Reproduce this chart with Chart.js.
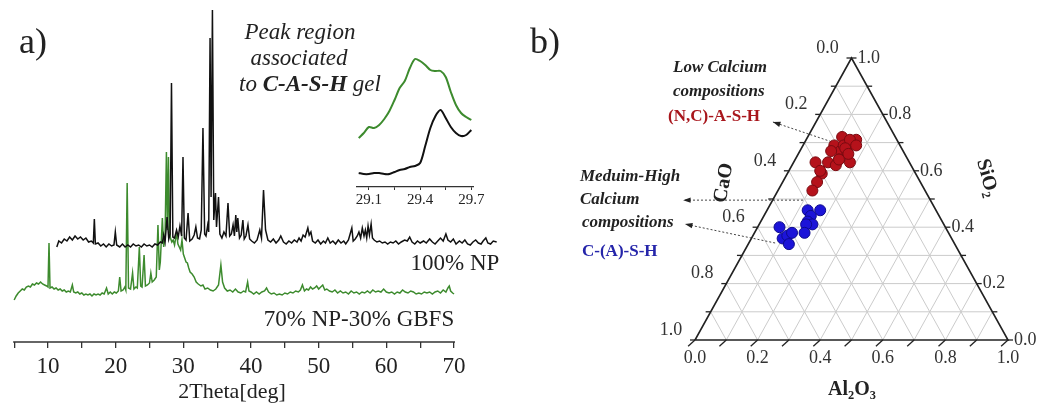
<!DOCTYPE html>
<html>
<head>
<meta charset="utf-8">
<script src="https://cdn.jsdelivr.net/npm/chart.js@4.4.0/dist/chart.umd.min.js"></script>
<style>
  html, body { margin: 0; padding: 0; background: #fff; }
  #wrap { position: relative; width: 1042px; height: 407px; overflow: hidden; }
  canvas { position: absolute; }
  #xrd { left: 0; top: 0; }
  #inset { left: 340px; top: 40px; }
  #tern { left: 520px; top: 0; }
</style>
</head>
<body>
<div id="wrap">
  <canvas id="xrd" width="520" height="407"></canvas>
  <canvas id="inset" width="150" height="180"></canvas>
  <canvas id="tern" width="522" height="407"></canvas>
</div>
<script>
// ---- panel a) XRD patterns (2theta in deg, intensity in arbitrary units) ----
const npTheta = [11.3,11.6,12.0,12.4,12.8,13.2,13.6,14.0,14.4,14.8,15.2,15.6,16.0,16.4,16.7,16.85,17.0,17.4,17.8,18.2,18.6,19.0,19.4,19.75,19.95,20.15,20.6,21.0,21.4,21.8,22.2,22.6,23.0,23.4,23.8,24.2,24.6,25.0,25.4,25.8,26.2,26.6,26.9,27.1,27.3,27.6,27.85,28.05,28.25,28.45,28.7,29.0,29.25,29.5,29.75,29.95,30.15,30.4,30.7,30.95,31.3,31.6,31.85,32.1,32.4,32.65,32.9,33.15,33.35,33.6,33.75,33.95,34.1,34.3,34.5,34.75,34.9,35.2,35.4,35.7,36.0,36.3,36.6,36.85,37.1,37.35,37.55,37.75,37.9,38.05,38.3,38.55,38.8,39.0,39.25,39.55,39.8,40.1,40.5,40.9,41.3,41.55,41.85,42.15,42.5,42.9,43.3,43.7,44.1,44.4,44.8,45.2,45.6,46.0,46.4,46.8,47.1,47.4,47.7,48.0,48.4,48.6,48.85,49.1,49.5,49.9,50.3,50.7,51.0,51.35,51.7,52.1,52.5,52.9,53.3,53.7,54.0,54.4,54.9,55.1,55.4,55.7,55.95,56.2,56.45,56.7,56.9,57.1,57.3,57.5,57.75,57.95,58.2,58.6,59.0,59.4,59.8,60.2,60.6,61.0,61.4,61.8,62.2,62.7,63.1,63.45,63.8,64.2,64.6,65.0,65.5,65.9,66.4,66.8,67.2,67.6,68.0,68.4,68.8,69.1,69.5,69.9,70.3,70.8,71.2,71.6,72.0,72.4,72.8,73.2,73.6,74.0,74.3,74.7,75.0,75.4,75.8,76.3];
const npInt = [95,101,99,103,101,105,102,106,103,105,102,104,100,101,99,123,98,99,96,98,95,98,96,97,110,97,95,98,95,97,95,98,96,97,95,98,96,97,95,98,97,100,99,107,100,125,103,108,259,105,104,112,105,116,106,185,104,102,129,101,103,107,115,104,103,112,214,108,106,117,110,304,145,332,122,149,115,145,108,104,110,106,139,106,108,117,106,127,110,124,104,107,122,103,106,117,103,101,99,102,112,104,152,112,102,100,103,99,102,106,100,98,101,99,102,100,104,101,107,105,114,107,110,101,99,102,98,101,99,104,99,101,98,102,99,101,98,102,114,101,103,106,110,104,114,106,112,104,116,107,118,104,102,100,101,99,100,98,100,99,101,98,100,102,101,105,100,98,101,99,101,99,103,100,98,101,104,101,108,102,100,103,98,101,99,102,98,97,100,102,99,98,101,104,99,98,101,100];

const gbfsTheta = [5.0,5.3,5.6,5.9,6.2,6.5,6.8,7.1,7.4,7.7,8.0,8.3,8.6,8.9,9.2,9.5,9.8,10.0,10.15,10.3,10.6,10.9,11.2,11.5,11.8,12.1,12.4,12.7,13.0,13.3,13.6,13.8,14.1,14.4,14.7,15.0,15.3,15.6,15.9,16.2,16.5,16.8,17.1,17.4,17.7,18.0,18.3,18.65,18.9,19.2,19.5,19.8,20.1,20.4,20.6,20.8,21.1,21.35,21.5,21.7,21.9,22.2,22.5,22.7,23.0,23.2,23.5,23.7,23.9,24.2,24.4,24.7,25.0,25.2,25.4,25.7,26.0,26.25,26.45,26.6,26.9,27.1,27.3,27.5,27.65,27.8,27.95,28.1,28.3,28.5,28.7,29.0,29.2,29.4,29.6,29.8,30.0,30.2,30.4,30.6,30.8,31.0,31.3,31.6,31.9,32.2,32.6,32.9,33.2,33.6,34.0,34.4,34.8,35.2,35.55,35.8,36.1,36.5,36.9,37.3,37.7,38.1,38.5,38.9,39.2,39.5,39.7,40.0,40.4,40.8,41.2,41.6,42.0,42.3,42.6,43.0,43.4,43.8,44.2,44.6,45.0,45.4,45.8,46.2,46.6,47.0,47.3,47.6,47.9,48.2,48.5,48.8,49.1,49.4,49.7,50.0,50.3,50.6,50.9,51.2,51.6,52.0,52.4,52.8,53.2,53.6,54.0,54.4,54.8,55.2,55.6,56.0,56.4,56.8,57.2,57.6,58.0,58.4,58.8,59.2,59.6,60.0,60.4,60.8,61.2,61.6,62.0,62.4,62.8,63.2,63.6,64.0,64.4,64.8,65.2,65.6,66.0,66.4,66.8,67.2,67.6,68.0,68.4,68.8,69.1,69.3,69.5,69.8,70.0];
const gbfsInt = [42,46,49,51,53,52,55,56,55,58,57,59,58,60,58,57,56,55,99,54,55,53,54,52,53,51,52,50,51,50,57,50,49,50,48,49,47,48,47,48,46,48,47,48,47,49,48,54,48,50,48,50,49,51,65,51,52,55,52,159,54,53,69,53,55,54,95,56,55,87,56,57,59,69,60,62,65,117,72,80,124,95,105,190,112,185,112,104,100,102,97,109,98,95,92,102,88,84,80,79,74,70,68,65,60,58,56,57,53,54,52,51,53,57,77,60,54,51,52,50,53,50,49,51,50,60,51,50,48,50,48,50,51,54,50,48,49,47,48,47,49,48,50,49,51,50,52,57,51,53,52,55,53,54,56,53,55,57,52,53,51,50,52,49,51,49,50,48,51,49,50,48,50,49,51,49,52,50,51,50,53,50,49,50,48,50,49,52,50,49,51,50,48,49,48,50,49,50,48,50,51,49,52,50,54,56,51,49,48];

const xrdTicks = [5,10,15,20,25,30,35,40,45,50,55,60,65,70];

// inset: C-A-S-H peak region
const insetTheta = [29.04,29.07,29.10,29.13,29.16,29.19,29.22,29.25,29.28,29.31,29.34,29.37,29.40,29.43,29.46,29.49,29.52,29.55,29.58,29.61,29.64,29.67,29.70];
const insetGbfs = [62,67,73,72,75,81,89,100,112,119,132,141,139,135,130,129,129,123,108,95,87,83,80];
const insetNp = [27,26,26,27,27,26,26,28,30,31,33,34,37,54,72,84,90,82,73,67,64,65,70];
const insetTicks = [29.1,29.25,29.4,29.55,29.7];

// ---- panel b) ternary compositions (mass fractions) ----
const nashCaO = [0.17,0.13,0.17,0.21,0.20,0.23,0.18,0.19,0.22,0.26,0.24,0.30,0.30,0.33,0.36,0.18,0.15,0.18,0.18,0.22,0.30,0.14];
const nashAl  = [0.11,0.16,0.14,0.10,0.13,0.10,0.15,0.18,0.14,0.11,0.14,0.07,0.11,0.11,0.11,0.13,0.14,0.14,0.16,0.14,0.10,0.17];
const nashSi  = [0.72,0.71,0.69,0.69,0.67,0.67,0.67,0.63,0.64,0.63,0.62,0.63,0.59,0.56,0.53,0.69,0.71,0.68,0.66,0.64,0.60,0.69];

const cashCaO = [0.37,0.41,0.41,0.43,0.42,0.44,0.46,0.53,0.54,0.52,0.50,0.53];
const cashAl  = [0.17,0.13,0.15,0.15,0.17,0.15,0.16,0.07,0.10,0.11,0.12,0.13];
const cashSi  = [0.46,0.46,0.44,0.42,0.41,0.41,0.38,0.40,0.36,0.37,0.38,0.34];

const ternTicks = [0,0.1,0.2,0.3,0.4,0.5,0.6,0.7,0.8,0.9,1.0];

const SERIF = "'Liberation Serif', 'Times New Roman', serif";

// ternary (Al2O3, SiO2) -> cartesian in data units
function ternXY(al, si) {
  return { x: al + si / 2, y: si };
}

// ---------------- panel a ----------------
const xrdDecor = {
  id: 'xrdDecor',
  afterDraw(chart) {
    const { ctx, chartArea, scales: { x } } = chart;
    ctx.save();
    // axis line only spans 5..70
    ctx.strokeStyle = '#333';
    ctx.lineWidth = 1.5;
    ctx.beginPath();
    ctx.moveTo(x.getPixelForValue(5) - 1, chartArea.bottom);
    ctx.lineTo(x.getPixelForValue(70) + 1, chartArea.bottom);
    ctx.stroke();

    ctx.fillStyle = '#222';
    ctx.textAlign = 'center';
    ctx.textBaseline = 'middle';
    ctx.font = `36px ${SERIF}`;
    ctx.fillText('a)', 33, 44);
    ctx.font = `22px ${SERIF}`;
    ctx.fillText('2Theta[deg]', x.getPixelForValue(37.2), 392);
    ctx.font = `23px ${SERIF}`;
    ctx.fillText('100% NP', 455, 264);
    ctx.fillText('70% NP-30% GBFS', 359, 320);

    ctx.font = `italic 23px ${SERIF}`;
    ctx.fillText('Peak region', 300, 33);
    ctx.fillText('associated', 299, 59);
    // third line mixes italic and bold italic
    const parts = [['to ', 'italic'], ['C-A-S-H', 'italic bold'], [' gel', 'italic']];
    let total = 0;
    const widths = parts.map(([t, st]) => {
      ctx.font = `${st} 23px ${SERIF}`;
      const w = ctx.measureText(t).width;
      total += w;
      return w;
    });
    let cx = 310 - total / 2;
    ctx.textAlign = 'left';
    parts.forEach(([t, st], i) => {
      ctx.font = `${st} 23px ${SERIF}`;
      ctx.fillText(t, cx, 85);
      cx += widths[i];
    });
    ctx.restore();
  }
};

new Chart(document.getElementById('xrd'), {
  type: 'line',
  data: {
    datasets: [
      {
        label: '100% NP',
        data: npTheta.map((t, i) => ({ x: t, y: npInt[i] })),
        borderColor: '#111',
        borderWidth: 1.5,
        pointRadius: 0,
        tension: 0
      },
      {
        label: '70% NP-30% GBFS',
        data: gbfsTheta.map((t, i) => ({ x: t, y: gbfsInt[i] })),
        borderColor: '#3d8b2e',
        borderWidth: 1.5,
        pointRadius: 0,
        tension: 0
      }
    ]
  },
  options: {
    responsive: false,
    animation: false,
    layout: { padding: { left: 12.8, right: 22, top: 8, bottom: 21.4 } },
    plugins: { legend: { display: false }, tooltip: { enabled: false } },
    scales: {
      x: {
        type: 'linear',
        min: 4.8,
        max: 76.5,
        afterBuildTicks: (s) => { s.ticks = xrdTicks.map(v => ({ value: v })); },
        ticks: {
          autoSkip: false,
          maxRotation: 0,
          padding: 5,
          color: '#222',
          font: { family: SERIF, size: 23 },
          callback: (v) => (v % 10 === 0 ? String(v) : '')
        },
        grid: { drawOnChartArea: false, drawTicks: true, tickLength: 6, color: '#333', lineWidth: 1.3 },
        border: { display: false }
      },
      y: { display: false, min: 0, max: 334 }
    }
  },
  plugins: [xrdDecor]
});

new Chart(document.getElementById('inset'), {
  type: 'line',
  data: {
    datasets: [
      {
        label: '70% NP-30% GBFS',
        data: insetTheta.map((t, i) => ({ x: t, y: insetGbfs[i] })),
        borderColor: '#3d8b2e',
        borderWidth: 2,
        pointRadius: 0,
        tension: 0.3
      },
      {
        label: '100% NP',
        data: insetTheta.map((t, i) => ({ x: t, y: insetNp[i] })),
        borderColor: '#111',
        borderWidth: 2,
        pointRadius: 0,
        tension: 0.3
      }
    ]
  },
  options: {
    responsive: false,
    animation: false,
    layout: { padding: { left: 17, right: 17, top: 10, bottom: 10 } },
    plugins: { legend: { display: false }, tooltip: { enabled: false } },
    scales: {
      x: {
        type: 'linear',
        min: 29.03,
        max: 29.71,
        afterBuildTicks: (s) => { s.ticks = insetTicks.map(v => ({ value: v })); },
        ticks: {
          autoSkip: false,
          maxRotation: 0,
          padding: 1,
          color: '#222',
          font: { family: SERIF, size: 15 },
          callback: (v) => ([29.1, 29.4, 29.7].includes(+v.toFixed(2)) ? v.toFixed(1) : '')
        },
        grid: { drawOnChartArea: false, tickLength: 3, color: '#333' },
        border: { display: true, color: '#333', width: 1.3 }
      },
      y: { display: false, min: 13, max: 150 }
    }
  }
});

// ---------------- panel b ----------------
const arrows = [
  { from: [0.447, 0.699], to: [0.249, 0.773] },
  { from: [0.345, 0.496], to: [-0.038, 0.496] },
  { from: [0.256, 0.344], to: [-0.032, 0.411] }
];

function drawSubText(ctx, parts, cx, cy, size) {
  let total = 0;
  const ws = parts.map(([t, sub]) => {
    ctx.font = `bold ${sub ? size * 0.62 : size}px ${SERIF}`;
    const w = ctx.measureText(t).width;
    total += w;
    return w;
  });
  let x = cx - total / 2;
  ctx.textAlign = 'left';
  parts.forEach(([t, sub], i) => {
    ctx.font = `bold ${sub ? size * 0.62 : size}px ${SERIF}`;
    ctx.fillText(t, x, cy + (sub ? size * 0.3 : 0));
    x += ws[i];
  });
}

const ternaryFrame = {
  id: 'ternaryFrame',
  beforeDatasetsDraw(chart) {
    const { ctx, scales: { x, y } } = chart;
    const P = (al, si) => {
      const c = ternXY(al, si);
      return [x.getPixelForValue(c.x), y.getPixelForValue(c.y)];
    };
    const line = (a, b) => { ctx.beginPath(); ctx.moveTo(a[0], a[1]); ctx.lineTo(b[0], b[1]); ctx.stroke(); };
    ctx.save();

    // grid
    ctx.strokeStyle = '#cbcbcb';
    ctx.lineWidth = 1;
    ternTicks.slice(1, -1).forEach(v => {
      line(P(0, v), P(1 - v, v));          // SiO2 = v
      line(P(v, 0), P(v, 1 - v));          // Al2O3 = v
      line(P(0, 1 - v), P(1 - v, 0));      // CaO = v
    });

    // dotted arrows
    ctx.strokeStyle = '#444';
    ctx.fillStyle = '#222';
    ctx.lineWidth = 1;
    arrows.forEach(ar => {
      const a = [x.getPixelForValue(ar.from[0]), y.getPixelForValue(ar.from[1])];
      const b = [x.getPixelForValue(ar.to[0]), y.getPixelForValue(ar.to[1])];
      ctx.setLineDash([2, 2]);
      line(a, b);
      ctx.setLineDash([]);
      const ang = Math.atan2(b[1] - a[1], b[0] - a[0]);
      ctx.beginPath();
      ctx.moveTo(b[0], b[1]);
      ctx.lineTo(b[0] - 8 * Math.cos(ang - 0.35), b[1] - 8 * Math.sin(ang - 0.35));
      ctx.lineTo(b[0] - 8 * Math.cos(ang + 0.35), b[1] - 8 * Math.sin(ang + 0.35));
      ctx.closePath();
      ctx.fill();
    });

    // triangle
    ctx.strokeStyle = '#222';
    ctx.lineWidth = 1.6;
    ctx.beginPath();
    const v0 = P(0, 0), v1 = P(1, 0), v2 = P(0, 1);
    ctx.moveTo(v0[0], v0[1]); ctx.lineTo(v1[0], v1[1]); ctx.lineTo(v2[0], v2[1]); ctx.closePath();
    ctx.stroke();

    // ticks and labels
    ctx.lineWidth = 1.3;
    ctx.fillStyle = '#333';
    ctx.font = `18px ${SERIF}`;
    ctx.textBaseline = 'middle';
    ternTicks.forEach((v, k) => {
      const lab = v.toFixed(1);
      // bottom: Al2O3
      const b = P(v, 0), bt = P(v - 0.011, -0.022);
      line(b, bt);
      // left: CaO
      const l = P(0, 1 - v);
      line(l, [l[0] - 5, l[1]]);
      // right: SiO2
      const r = P(1 - v, v);
      line(r, [r[0] + 5, r[1]]);
      if (k % 2 === 0) {
        ctx.textAlign = 'center';
        ctx.fillText(lab, b[0], b[1] + 18);
        ctx.fillText(lab, l[0] - 24, l[1] - 10);
        ctx.textAlign = 'left';
        ctx.fillText(lab, r[0] + 6, r[1]);
      }
    });
    ctx.restore();
  },
  afterDraw(chart) {
    const { ctx } = chart;
    ctx.save();
    ctx.fillStyle = '#222';
    ctx.textBaseline = 'middle';
    ctx.textAlign = 'center';
    ctx.font = `36px ${SERIF}`;
    ctx.fillText('b)', 25, 44);

    // axis titles
    ctx.save();
    ctx.translate(204, 183);
    ctx.rotate(-80 * Math.PI / 180);
    ctx.font = `bold 20px ${SERIF}`;
    ctx.fillText('CaO', 0, 0);
    ctx.restore();

    ctx.save();
    ctx.translate(467, 178);
    ctx.rotate(75 * Math.PI / 180);
    drawSubText(ctx, [['SiO', false], ['2', true]], 0, 0, 20);
    ctx.restore();

    drawSubText(ctx, [['Al', false], ['2', true], ['O', false], ['3', true]], 332, 390, 20);

    // annotations
    ctx.textAlign = 'left';
    ctx.font = `bold italic 17px ${SERIF}`;
    ctx.fillText('Low Calcium', 153, 68);
    ctx.fillText('compositions', 153, 92);
    ctx.fillText('Meduim-High', 60, 177);
    ctx.fillText('Calcium', 60, 200);
    ctx.fillText('compositions', 62, 223);
    ctx.font = `bold 17px ${SERIF}`;
    ctx.fillStyle = '#a8161c';
    ctx.fillText('(N,C)-A-S-H', 148, 117);
    ctx.fillStyle = '#2525aa';
    ctx.fillText('C-(A)-S-H', 62, 252);
    ctx.restore();
  }
};

new Chart(document.getElementById('tern'), {
  type: 'scatter',
  data: {
    datasets: [
      {
        label: '(N,C)-A-S-H',
        data: nashAl.map((a, i) => ternXY(a, nashSi[i])),
        backgroundColor: '#b5121b',
        borderColor: '#7a0a10',
        borderWidth: 1,
        pointRadius: 5.5
      },
      {
        label: 'C-(A)-S-H',
        data: cashAl.map((a, i) => ternXY(a, cashSi[i])),
        backgroundColor: '#1c14d8',
        borderColor: '#0d0a8c',
        borderWidth: 1,
        pointRadius: 5.5
      }
    ]
  },
  options: {
    responsive: false,
    animation: false,
    layout: { padding: { left: 175, right: 34, top: 58, bottom: 67 } },
    plugins: { legend: { display: false }, tooltip: { enabled: false } },
    scales: {
      x: { display: false, min: 0, max: 1 },
      y: { display: false, min: 0, max: 1 }
    }
  },
  plugins: [ternaryFrame]
});
</script>
</body>
</html>
